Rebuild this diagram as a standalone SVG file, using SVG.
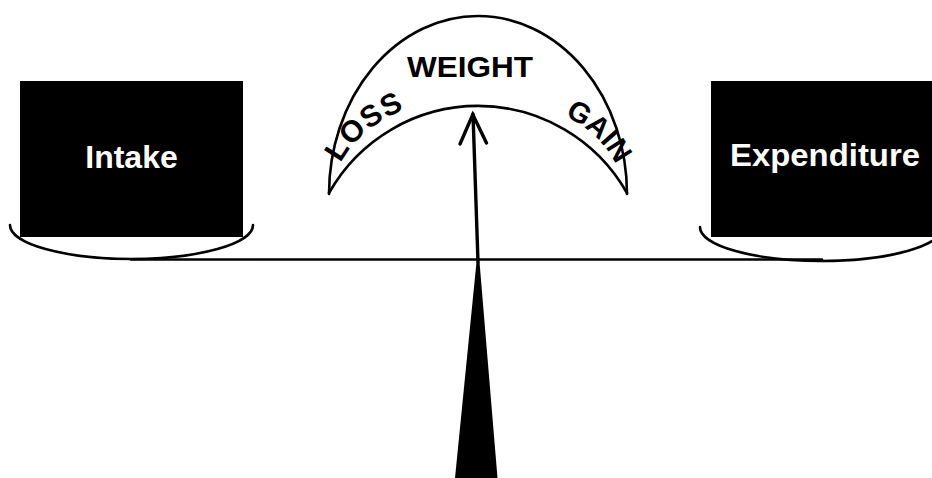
<svg xmlns="http://www.w3.org/2000/svg" width="932" height="478" viewBox="0 0 932 478">
  <defs>
    <style>
      .ln { fill: none; stroke: #000; stroke-width: 2.6; stroke-linecap: round; }
      .box { fill: #000; }
      .lbl { font-family: "Liberation Sans", Arial, sans-serif; font-weight: bold; fill: #fff; font-size: 32px; text-anchor: middle; }
      .dial { font-family: "Liberation Sans", Arial, sans-serif; font-weight: bold; fill: #000; }
    </style>
    <path id="dialPath" d="M 333,195 A 145 99 0 0 1 623,195"/>
  </defs>
  <rect width="932" height="478" fill="#fff"/>

  <g id="connectors">
    <path id="beam" class="ln" d="M 131,259.5 L 822,259.5"/>
    <polygon id="fulcrum" points="476.5,262 479.5,262 497.5,478 455,478" fill="#000"/>
    <path id="pointer" class="ln" style="stroke-width:3.4" d="M 478,262 L 473,114"/>
    <path id="pointer-head" class="ln" style="stroke-width:3.4;stroke-linejoin:miter" d="M 460,144 L 472.8,114.5 L 486.5,143"/>
  </g>

  <g id="intake">
    <path class="ln" d="M 10,225 A 121.5 34 0 0 0 253,225"/>
    <rect class="box" x="20" y="81" width="223" height="156"/>
    <text class="lbl" x="131.5" y="168">Intake</text>
  </g>

  <g id="expenditure">
    <path class="ln" d="M 700,227 A 121.5 34 0 0 0 943,227"/>
    <rect class="box" x="711" y="81" width="223" height="156"/>
    <text class="lbl" x="825" y="166" textLength="190" lengthAdjust="spacingAndGlyphs">Expenditure</text>
  </g>

  <g id="weight-dial">
    <path class="ln" d="M 329,194 A 149 178 0 0 1 627,194"/>
    <path class="ln" d="M 329,193 A 171 171 0 0 1 627,193"/>
    <text class="dial" x="470" y="77" font-size="30" text-anchor="middle" textLength="126" lengthAdjust="spacingAndGlyphs">WEIGHT</text>
    <text class="dial" font-size="30" letter-spacing="1"><textPath href="#dialPath" startOffset="33">LOSS</textPath></text>
    <text class="dial" font-size="29" text-anchor="end"><textPath href="#dialPath" startOffset="355">GAIN</textPath></text>
  </g>
</svg>
